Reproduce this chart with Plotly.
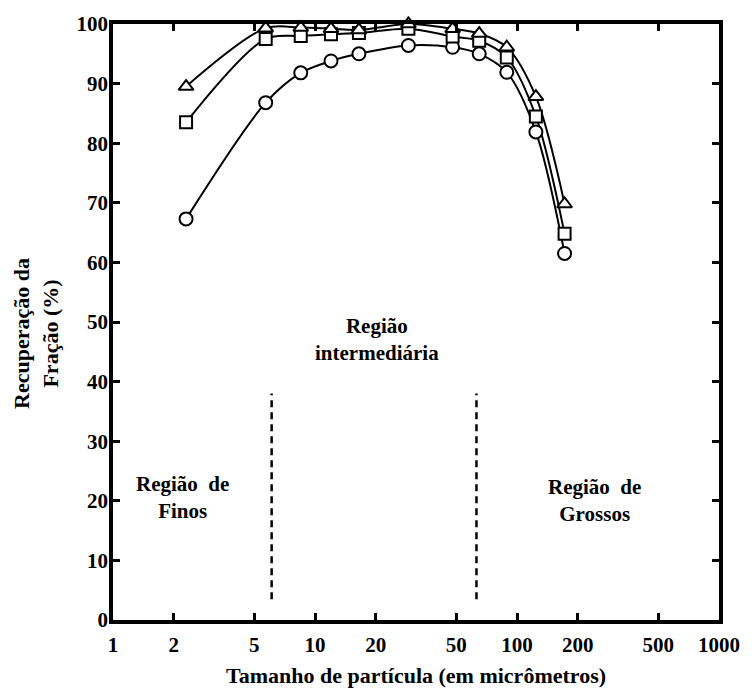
import math
import plotly.graph_objects as go

# ---- data ----
particle_size = [2.3, 5.7, 8.5, 12, 16.5, 29, 48, 65, 89, 124, 172]
recovery_triangle = [89.5, 99.3, 99.4, 99.2, 99.0, 100.0, 99.2, 98.4, 96.1, 87.8, 69.8]
recovery_square = [83.5, 97.5, 98.0, 98.3, 98.5, 99.2, 97.9, 97.2, 94.4, 84.5, 64.8]
recovery_circle = [67.3, 86.8, 91.8, 93.8, 95.0, 96.4, 96.1, 95.0, 91.9, 81.9, 61.5]

x_tick_values = [1, 2, 5, 10, 20, 50, 100, 200, 500, 1000]
x_tick_labels = ["1", "2", "5", "10", "20", "50", "100", "200", "500", "1000"]
y_tick_values = [0, 10, 20, 30, 40, 50, 60, 70, 80, 90, 100]
y_tick_labels = ["0", "10", "20", "30", "40", "50", "60", "70", "80", "90", "100"]

region_bounds = [6.1, 63]          # dashed separators (micrometres)
region_bound_span = [3.5, 38]      # vertical extent of the separators (%)

region_labels = ["Região  de<br>Finos", "Região<br>intermediária", "Região  de<br>Grossos"]
region_label_x = [2.2, 20.2, 243]
region_label_y = [20.5, 47, 20]

FONT = "Liberation Serif"

fig = go.Figure()

series = [
    (recovery_circle, "circle", 13),
    (recovery_square, "square", 12),
    (recovery_triangle, "triangle-up", 13),
]
for vals, sym, sz in series:
    fig.add_trace(go.Scatter(
        x=particle_size, y=vals, mode="lines",
        line=dict(color="black", width=2, shape="spline", smoothing=0.9),
        showlegend=False, hoverinfo="skip", cliponaxis=False,
    ))
for vals, sym, sz in series:
    fig.add_trace(go.Scatter(
        x=particle_size, y=vals, mode="markers",
        marker=dict(symbol=sym, size=sz, color="white",
                    line=dict(color="black", width=2)),
        showlegend=False, cliponaxis=False,
    ))

for xb in region_bounds:
    fig.add_shape(type="line", xref="x", yref="y",
                  x0=xb, x1=xb, y0=region_bound_span[0], y1=region_bound_span[1],
                  line=dict(color="black", width=2.5, dash="7px,5px"))

for txt, xv, yv in zip(region_labels, region_label_x, region_label_y):
    fig.add_annotation(x=math.log10(xv), y=yv, xref="x", yref="y", text="<b>" + txt + "</b>",
                       showarrow=False, xanchor="center", yanchor="middle",
                       font=dict(family=FONT, size=21, color="black"),
                       align="center")

fig.add_annotation(xref="paper", yref="paper", x=0.5, y=-0.093,
                   xanchor="center", yanchor="middle",
                   text="<b>Tamanho de partícula (em micrômetros)</b>", showarrow=False,
                   font=dict(family=FONT, size=22, color="black"))
fig.add_annotation(xref="paper", yref="paper", x=-0.127, y=0.48,
                   xanchor="center", yanchor="middle",
                   text="<b>Recuperação da<br>Fração (%)</b>", showarrow=False, textangle=-90,
                   font=dict(family=FONT, size=22, color="black"))

axis_common = dict(
    showline=True, linewidth=3.5, linecolor="black", mirror="ticks",
    ticks="inside", ticklen=7, tickwidth=3, tickcolor="black",
    showgrid=False, zeroline=False,
    tickfont=dict(family=FONT, size=21, color="black"),
)

fig.update_xaxes(type="log", range=[0, 3], tickvals=x_tick_values,
                 ticktext=["<b>" + t + "</b>" for t in x_tick_labels],
                 ticklabelstandoff=3, **axis_common)
fig.update_yaxes(range=[0, 100], tickvals=y_tick_values,
                 ticktext=["<b>" + t + "</b>" for t in y_tick_labels],
                 ticklabelstandoff=-3, **axis_common)

fig.update_layout(
    width=752, height=688,
    margin=dict(l=113, r=25, t=20, b=68),
    paper_bgcolor="white", plot_bgcolor="white",
)

fig.write_html("out.html")
